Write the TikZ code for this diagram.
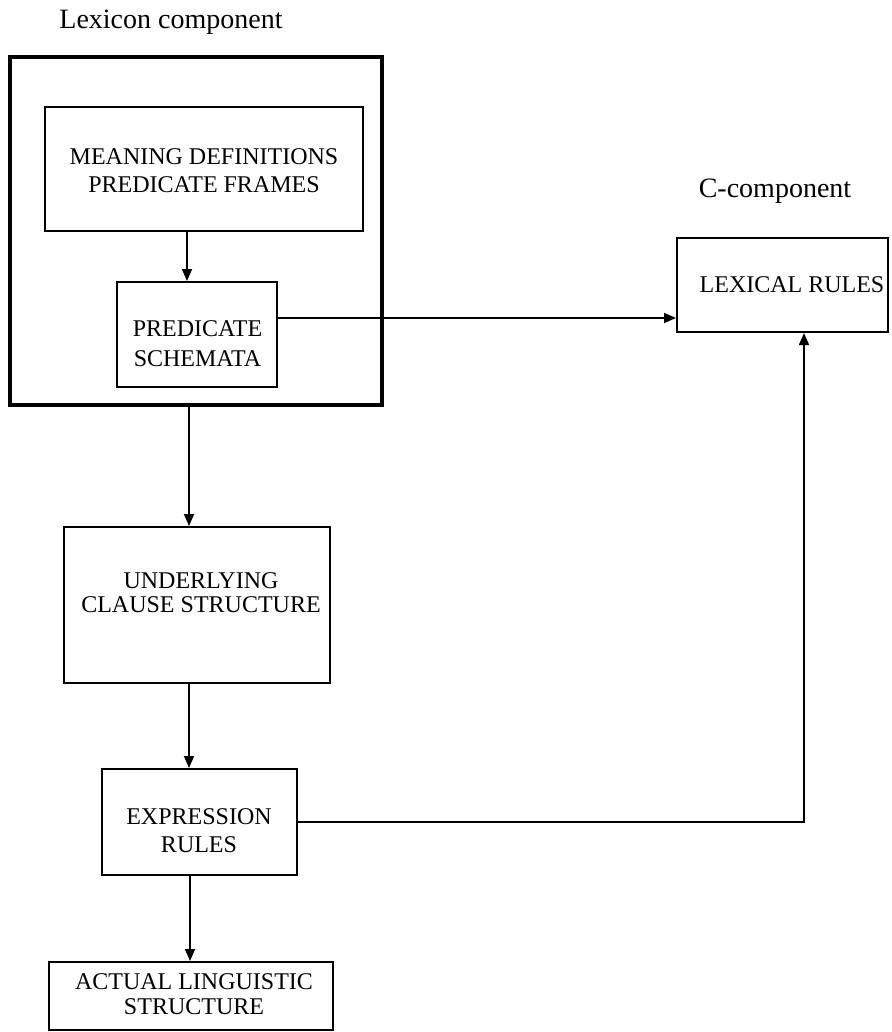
\documentclass[tikz,border=0pt]{standalone}
\usepackage{fontspec}
\setmainfont{Liberation Serif}
\usetikzlibrary{arrows.meta}
\begin{document}
\begin{tikzpicture}[x=1pt,y=-1pt,
  box/.style={draw, line width=2pt, rectangle, inner sep=0pt},
  bigbox/.style={draw, line width=4.6pt, rectangle, inner sep=0pt},
  boxtext/.style={inner sep=0pt, align=center, font=\fontsize{24}{28}\selectfont},
  title/.style={inner sep=0pt, anchor=base, font=\fontsize{28}{32}\selectfont},
  conn/.style={line width=1.6pt},
  arr/.style={conn, -{Triangle[length=12pt,width=10pt]}}]
\useasboundingbox (0,0) rectangle (891,1032);
% titles
\node[title] (lexlabel) at (171,29) {Lexicon component};
\node[title] (clabel) at (775,198) {C-component};
% boxes
\node[bigbox, minimum width=372pt, minimum height=348pt] (outer) at (196,231) {};
\node[box, minimum width=318pt, minimum height=124pt] (meaning) at (204,169) {};
\node[box, minimum width=160pt, minimum height=105pt] (schem) at (197,334.5) {};
\node[box, minimum width=211pt, minimum height=94pt] (lex) at (782.5,285) {};
\node[box, minimum width=266pt, minimum height=156pt] (under) at (197,605) {};
\node[box, minimum width=195pt, minimum height=106pt] (expr) at (199.5,822) {};
\node[box, minimum width=284pt, minimum height=68pt] (actual) at (191,996) {};
% texts
\node[boxtext] (tmeaning) at (204,171) {MEANING DEFINITIONS\\PREDICATE FRAMES};
\node[boxtext, font=\fontsize{24}{30}\selectfont] (tschem) at (197.5,344) {PREDICATE\\SCHEMATA};
\node[boxtext] (tlex) at (792,285) {LEXICAL RULES};
\node[boxtext, font=\fontsize{24}{23.5}\selectfont] (tunder) at (201,592.5) {UNDERLYING\\CLAUSE STRUCTURE};
\node[boxtext] (texpr) at (199,831) {EXPRESSION\\RULES};
\node[boxtext, font=\fontsize{24}{25}\selectfont] (tactual) at (194,994.5) {ACTUAL LINGUISTIC\\STRUCTURE};
% helper coordinates
\coordinate (xa) at (187,0);
\coordinate (xo) at (189,0);
\coordinate (xe) at (190,0);
\coordinate (xb) at (804,0);
\coordinate (ya) at (0,318);
% connectors
\draw[arr] (meaning.south -| xa) -- (schem.north -| xa);
\draw[arr] (schem.east |- ya) -- (lex.west |- ya);
\draw[arr] (outer.south -| xo) -- (under.north -| xo);
\draw[arr] (under.south -| xo) -- (expr.north -| xo);
\draw[arr] (expr.south -| xe) -- (actual.north -| xe);
\draw[arr] (expr.east) -- (expr.east -| xb) -- (lex.south -| xb);
\end{tikzpicture}
\end{document}
